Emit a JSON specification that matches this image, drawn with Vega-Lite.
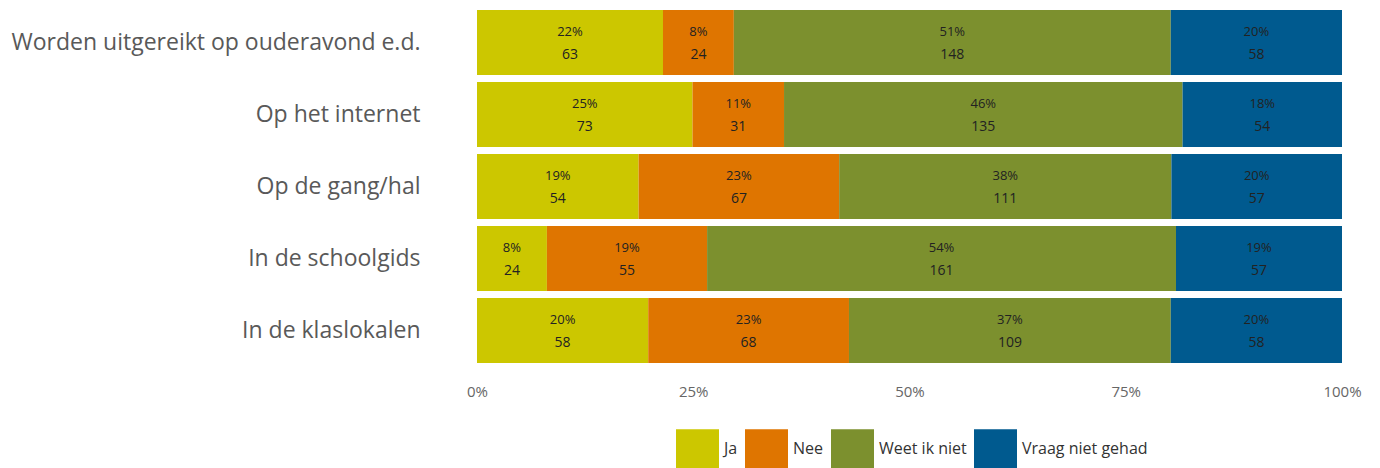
{
  "$schema": "https://vega.github.io/schema/vega-lite/v6.json",
  "autosize": {"type": "none"},
  "width": 865,
  "height": 360,
  "padding": {"left": 477, "top": 6.5, "right": 38, "bottom": 101.5},
  "config": {"view": {"stroke": null}, "font": "Open Sans"},
  "data": {
    "values": [
      {"question": "Worden uitgereikt op ouderavond e.d.", "answer": "Ja", "order": 1, "count": 63, "pct": "22%"},
      {"question": "Worden uitgereikt op ouderavond e.d.", "answer": "Nee", "order": 2, "count": 24, "pct": "8%"},
      {"question": "Worden uitgereikt op ouderavond e.d.", "answer": "Weet ik niet", "order": 3, "count": 148, "pct": "51%"},
      {"question": "Worden uitgereikt op ouderavond e.d.", "answer": "Vraag niet gehad", "order": 4, "count": 58, "pct": "20%"},
      {"question": "Op het internet", "answer": "Ja", "order": 1, "count": 73, "pct": "25%"},
      {"question": "Op het internet", "answer": "Nee", "order": 2, "count": 31, "pct": "11%"},
      {"question": "Op het internet", "answer": "Weet ik niet", "order": 3, "count": 135, "pct": "46%"},
      {"question": "Op het internet", "answer": "Vraag niet gehad", "order": 4, "count": 54, "pct": "18%"},
      {"question": "Op de gang/hal", "answer": "Ja", "order": 1, "count": 54, "pct": "19%"},
      {"question": "Op de gang/hal", "answer": "Nee", "order": 2, "count": 67, "pct": "23%"},
      {"question": "Op de gang/hal", "answer": "Weet ik niet", "order": 3, "count": 111, "pct": "38%"},
      {"question": "Op de gang/hal", "answer": "Vraag niet gehad", "order": 4, "count": 57, "pct": "20%"},
      {"question": "In de schoolgids", "answer": "Ja", "order": 1, "count": 24, "pct": "8%"},
      {"question": "In de schoolgids", "answer": "Nee", "order": 2, "count": 55, "pct": "19%"},
      {"question": "In de schoolgids", "answer": "Weet ik niet", "order": 3, "count": 161, "pct": "54%"},
      {"question": "In de schoolgids", "answer": "Vraag niet gehad", "order": 4, "count": 57, "pct": "19%"},
      {"question": "In de klaslokalen", "answer": "Ja", "order": 1, "count": 58, "pct": "20%"},
      {"question": "In de klaslokalen", "answer": "Nee", "order": 2, "count": 68, "pct": "23%"},
      {"question": "In de klaslokalen", "answer": "Weet ik niet", "order": 3, "count": 109, "pct": "37%"},
      {"question": "In de klaslokalen", "answer": "Vraag niet gehad", "order": 4, "count": 58, "pct": "20%"}
    ]
  },
  "transform": [
    {"stack": "count", "groupby": ["question"], "sort": [{"field": "order"}], "offset": "normalize", "as": ["x0", "x1"]},
    {"calculate": "(datum.x0 + datum.x1) / 2", "as": "xmid"}
  ],
  "encoding": {
    "y": {
      "field": "question",
      "type": "nominal",
      "sort": null,
      "scale": {"paddingInner": 0.1, "paddingOuter": 0.05},
      "axis": {
        "title": null,
        "domain": false,
        "ticks": false,
        "labelFontSize": 23,
        "labelColor": "#595959",
        "labelPadding": 57,
        "labelLimit": 600
      }
    }
  },
  "layer": [
    {
      "mark": {"type": "bar"},
      "encoding": {
        "x": {
          "field": "x0",
          "type": "quantitative",
          "scale": {"domain": [0, 1], "nice": false},
          "axis": {
            "title": null,
            "format": "%",
            "values": [0, 0.25, 0.5, 0.75, 1],
            "grid": false,
            "domain": false,
            "ticks": false,
            "labelFlush": false,
            "labelFontSize": 15,
            "labelColor": "#666666",
            "labelPadding": 18
          }
        },
        "x2": {"field": "x1"},
        "color": {
          "field": "answer",
          "type": "nominal",
          "sort": ["Ja", "Nee", "Weet ik niet", "Vraag niet gehad"],
          "scale": {
            "domain": ["Ja", "Nee", "Weet ik niet", "Vraag niet gehad"],
            "range": ["#CCC700", "#DF7500", "#7C902E", "#005A8F"]
          },
          "legend": {
            "title": null,
            "orient": "none",
            "legendX": 199,
            "legendY": 420.5,
            "padding": 0,
            "direction": "horizontal",
            "symbolType": "M-1,-0.9L1,-0.9L1,0.9L-1,0.9Z",
            "symbolSize": 1849,
            "symbolStrokeWidth": 0,
            "symbolOpacity": 1,
            "labelFontSize": 16,
            "labelColor": "#333333",
            "labelOffset": 5,
            "columnPadding": 7
          }
        }
      }
    },
    {
      "mark": {"type": "text", "dy": -10.5, "fontSize": 13, "color": "#222222"},
      "encoding": {
        "x": {"field": "xmid", "type": "quantitative"},
        "text": {"field": "pct"}
      }
    },
    {
      "mark": {"type": "text", "dy": 12.5, "fontSize": 14, "color": "#222222"},
      "encoding": {
        "x": {"field": "xmid", "type": "quantitative"},
        "text": {"field": "count"}
      }
    }
  ]
}
